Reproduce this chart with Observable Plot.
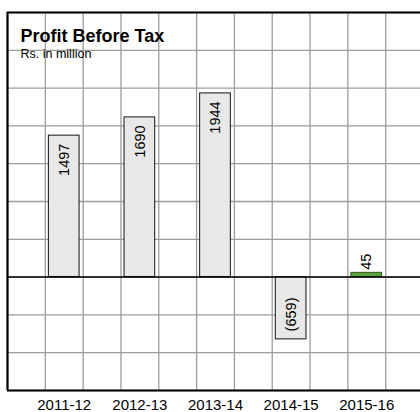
<!DOCTYPE html>
<html>
<head>
<meta charset="utf-8">
<script src="https://cdn.jsdelivr.net/npm/d3@7"></script>
<script src="https://cdn.jsdelivr.net/npm/@observablehq/plot@0.6"></script>
<style>
  html, body { margin: 0; padding: 0; background: #fff; }
  #chart { width: 420px; height: 412px; overflow: hidden; }
</style>
</head>
<body>
<div id="chart"></div>
<script>
const categories = ["2011-12", "2012-13", "2013-14", "2014-15", "2015-16"];
const values = [1497, 1690, 1944, -659, 45];
const yTicks = [-1200, -800, -400, 0, 400, 800, 1200, 1600, 2000, 2400, 2800];
const title = "Profit Before Tax";
const subtitle = "Rs. in million";
const highlight = "2015-16";

const data = categories.map((c, i) => ({cat: c, i, v: values[i]}));
const xGrid = d3.range(-0.75, 4.76, 0.5);
const half = 0.203;
const fmt = v => v < 0 ? `(${Math.abs(v)})` : `${v}`;
const font = "'Liberation Sans', Arial, Helvetica, sans-serif";

const chart = Plot.plot({
  width: 420,
  height: 412,
  marginLeft: 7,
  marginRight: -3,
  marginTop: 12,
  marginBottom: 22,
  style: {fontFamily: font, background: "#fff", color: "#000"},
  x: {type: "linear", domain: [-0.75, 4.75], axis: null},
  y: {domain: [-1200, 2800], axis: null},
  marks: [
    Plot.ruleX(xGrid, {stroke: "#9c9c9c", strokeWidth: 1.3}),
    Plot.ruleY(yTicks, {stroke: "#9c9c9c", strokeWidth: 1.3}),
    Plot.text([title], {frameAnchor: "top-left", dx: 13, dy: 17, lineAnchor: "top", textAnchor: "start", fontSize: 18, fontWeight: "bold", fill: "#000"}),
    Plot.text([subtitle], {frameAnchor: "top-left", dx: 13, dy: 36.5, lineAnchor: "top", textAnchor: "start", fontSize: 12.5, fill: "#000"}),
    Plot.rectY(data, {
      x1: d => d.i - half, x2: d => d.i + half, y1: 0, y2: "v",
      fill: d => d.cat === highlight ? "#5ba33b" : "#e7e8e7",
      stroke: d => d.cat === highlight ? "#2f5a1f" : "#111",
      strokeWidth: 1
    }),
    Plot.ruleY([0], {stroke: "#000", strokeWidth: 1.5}),
    Plot.ruleY([2800, -1200], {stroke: "#000", strokeWidth: 2.2}),
    Plot.ruleX([-0.75], {stroke: "#000", strokeWidth: 2.2}),
    // labels inside positive bars
    Plot.text(data.filter(d => d.v > 200), {x: "i", y: "v", text: d => fmt(d.v), rotate: -90, textAnchor: "end", lineAnchor: "middle", dy: 8, fontSize: 14.5, fill: "#000"}),
    // labels inside negative bars
    Plot.text(data.filter(d => d.v < -200), {x: "i", y: "v", text: d => fmt(d.v), rotate: -90, textAnchor: "start", lineAnchor: "middle", dy: -8, fontSize: 14.5, fill: "#000"}),
    // labels above small bars
    Plot.text(data.filter(d => Math.abs(d.v) <= 200), {x: "i", y: "v", text: d => fmt(d.v), rotate: -90, textAnchor: "start", lineAnchor: "middle", dy: -3, fontSize: 14.5, fill: "#000"}),
    // category labels
    Plot.text(data, {x: "i", y: -1200, text: "cat", lineAnchor: "top", dy: 9, fontSize: 15, fill: "#000"})
  ]
});
document.getElementById("chart").appendChild(chart);
</script>
</body>
</html>
